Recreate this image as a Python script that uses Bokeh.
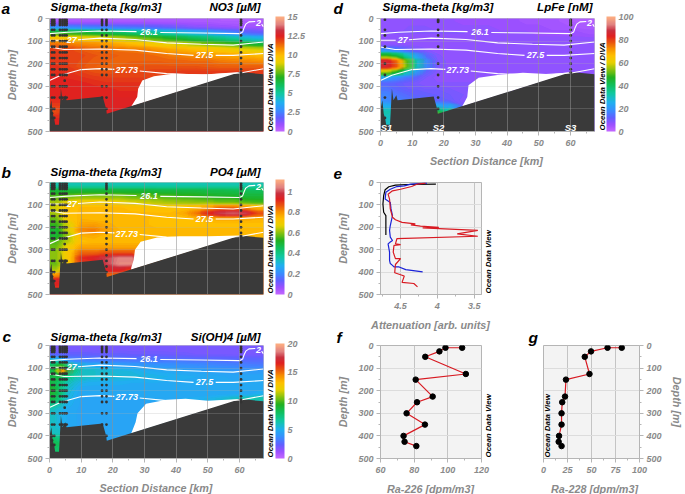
import numpy as np
from bokeh.plotting import figure
from bokeh.layouts import row, column
from bokeh.models import Range1d, FixedTicker, Label, LinearColorMapper, ColorBar
from bokeh.embed import file_html
from bokeh.resources import INLINE

FONT = "Liberation Sans"
GRAY = "#8a8a8a"
DARK = "#3a3a3a"
nan = float("nan")

# ---- colour scale stops (fraction, colour) ----
cmap_pos = [0, .06, .12, .18, .25, .33, .40, .47, .53, .60, .66, .72, .78, .83, .88, .93, 1]
cmap_col = ["#c468ff", "#9a50ff", "#6060ff", "#3a8cff", "#20b0f0", "#10c8a0", "#10c060", "#20b020",
            "#80c010", "#e8d000", "#ffc000", "#f89000", "#e85010", "#e02020", "#c83040", "#e08080", "#ffb080"]

# ---- section fields; rows at grid_m, columns at the panel's km grid ----
grid_km = [2, 6, 10, 14, 18, 22, 26, 30, 34, 38, 42, 46, 50, 54, 58, 62, 66]
grid_km_c = [1, 3.4, 6, 10, 14, 18, 22, 26, 30, 34, 38, 42, 46, 50, 54, 58, 62, 66]
grid_km_d = [2, 5, 7, 9, 11.5, 14, 18, 22, 26, 30, 34, 38, 42, 46, 50, 54, 58, 62, 66]
grid_m = [12.5, 37.5, 62.5, 87.5, 112.5, 137.5, 162.5, 187.5, 212.5, 237.5, 262.5, 287.5, 312.5, 337.5, 362.5, 387.5, 412.5, 437.5, 462.5, 487.5]
no3 = [
 [.6,.6,.6,.6,.6,.6,.6,.6,.6,.6,.6,.6,.6,.5,.5,.5,.5],
 [2.8,2.6,2.5,2.4,2.3,2.2,2.1,2,1.8,1.6,1.4,1.2,1.1,1,.9,.8,.8],
 [7,7,6.8,6.5,6.3,6,5.7,5.4,5,4.6,4.2,3.8,3.4,3,2.6,2,1.8],
 [9.8,9.6,9.4,9.2,9,8.6,8.2,7.8,7.4,7,6.6,6.2,5.8,5.4,5,4.4,4],
 [11.2,11.1,10.9,10.8,10.6,10.3,10,9.7,9.3,9,8.7,8.3,8,7.7,7.4,7,6.6],
 [12,11.9,11.6,11.4,11.3,11.2,11.1,11,10.7,10.4,10.2,10,9.8,9.6,9.3,9,8.8],
 [12.1,12,11.9,11.7,11.6,11.5,11.5,11.4,11.3,11.1,11,10.8,10.7,10.5,10.4,10.2,10],
 [12.1,12,11.8,11.6,11.5,11.5,11.5,11.5,11.5,11.4,11.4,11.3,11.3,11.1,11,10.9,10.8],
 [12.2,12,11.7,11.5,11.4,11.5,11.6,11.7,11.7,11.7,11.7,11.7,11.6,11.5,11.5,11.5,11.5],
 [12.3,12.2,12,11.8,11.7,11.8,11.9,11.9,12,12,12.1,12.1,12.1,12.1,12.1,12.1,12.1],
 [12.4,12.3,12.2,12.1,12,12,12] + [12] * 10,
 [12.5,12.5,12.4,12.3,12.2,12.2,12.2] + [12.2] * 10,
 [12.5,12.5,12.4,12.4,12.4,12.3,12.3] + [12.3] * 10,
 [12.5,12.5,12.5,12.4,12.4,12.4,12.4] + [12.4] * 10,
 [12.3,12.3,12.5,12.5,12.6,12.6,12.6] + [12.4] * 10,
 [12,12,12.5,12.5,12.6,12.6,12.6] + [12.4] * 10,
 [11.8,12.2,12.5,12.5,12.6,12.6,12.6] + [12.4] * 10,
 [12.3,12.3,12.5,12.5,12.6,12.6,12.6] + [12.4] * 10,
 [12.5] * 17,
 [12.5] * 17,
]
po4 = [
 [.36] * 17,
 [.50,.50,.50,.50,.50,.50,.50,.50,.49,.49,.49,.49,.48,.48,.47,.46,.46],
 [.56,.58,.60,.60,.60,.60,.58,.58,.57,.56,.55,.54,.53,.52,.52,.50,.50],
 [.62,.68,.70,.70,.70,.68,.66,.65,.63,.62,.61,.60,.60,.58,.58,.56,.55],
 [.66,.73,.75,.75,.75,.75,.74,.73,.72,.72,.74,.76,.80,.85,.85,.82,.76],
 [.62,.74,.75,.75,.75,.75,.75,.75,.75,.75,.77,.83,.92,1.0,1.02,1.0,.88],
 [.58,.72,.76,.75,.75,.75,.75,.75,.74,.74,.74,.75,.76,.77,.77,.77,.76],
 [.54,.66,.78,.79,.77,.75,.75,.75,.74,.74,.74,.74,.74,.74,.74,.74,.74],
 [.50,.66,.82,.83,.79,.76,.75,.75,.75,.75,.75,.75,.75,.75,.75,.75,.75],
 [.50,.62,.76,.77,.75,.75,.75] + [.75] * 10,
 [.56,.64,.74,.75,.75,.75,.75] + [.75] * 10,
 [.58,.70,.78,.78,.78,.78,.78] + [.78] * 10,
 [.60,.72,.85,.85,.87,.87,.87] + [.85] * 10,
 [.60,.72,.92,.95,1.0,1.05,1.05] + [.85] * 10,
 [.58,.72,.90,.90,1.0,1.06,1.06] + [.85] * 10,
 [.62,.80,.90,.90,.95,.95,.90] + [.85] * 10,
 [.80,.85] + [.85] * 15,
 [.95,.95] + [.85] * 15,
 [.92,.90] + [.85] * 15,
 [.90,.90] + [.85] * 15,
]
sioh4 = [
 [1.8] * 18,
 [2.4,2.4,2.4,2.4,2.3,2.3,2.3,2.2,2.2,2.2,2.1,2.1,2,2,2,1.9,1.9,1.9],
 [5.5,5,3.4,3.2,3.2,3.1,3.1,3,3,3,2.9,2.9,2.8,2.8,2.7,2.7,2.6,2.6],
 [8,10,6,5,4.8,4.6,4.4,4.2,4.1,4,3.9,3.8,3.7,3.6,3.5,3.4,3.3,3.2],
 [8.5,15.5,8,6,5.8,5.6,5.4,5.3,5,4.8,4.7,4.6,4.5,4.4,4.3,4.2,4.2,4.2],
 [8.5,8.5,7,6,5.8,5.6,5.6,5.5,5.3,5.2,5.1,5,4.9,4.8,4.7,4.6,4.6,4.6],
 [8.5,7.5,6,5.2,5,5,5,4.9,4.9,4.9,4.8,4.8,4.8,4.8,4.7,4.7,4.7,4.7],
 [9,7.5,5.6] + [4.8] * 15,
 [9,7.5,5.4] + [4.7] * 14 + [5],
 [8.5,7,5.2,4.6,4.6,4.6,4.6,4.6,4.7,4.7,4.8,4.9,5,5.2,5.5,6,6.4,6.5],
 [7,6,5] + [4.6] * 15,
 [6,5.2,4.8] + [4.6] * 15,
 [6,5.2,4.8] + [4.6] * 15,
 [6,5.2,4.8] + [4.6] * 15,
 [6,5.4,4.8] + [4.6] * 15,
 [6,6,4.8] + [4.6] * 15,
 [8,7,4.8] + [4.6] * 15,
 [8.5,8,4.8] + [4.6] * 15,
 [8,8,4.8] + [4.6] * 15,
 [8,8,4.8] + [4.6] * 15,
]
lpfe = [
 [7,7,7,7,7,7,7,7,6,6,6,6,6,5,5,5,4,3,3],
 [7,7,7,8,8,8,7,7,7,7,7,6,6,6,6,5,5,4,4],
 [8,8,8,8,8,8,8,8,8,7,7,7,7,7,6,6,6,6,5],
 [7] * 19,
 [7] * 19,
 [18,16,13,11,9,8,7] + [7] * 12,
 [47,42,35,27,19,13,8] + [7] * 12,
 [86,76,58,42,28,18,9] + [7] * 12,
 [86,78,60,43,28,18,9] + [7] * 12,
 [55,46,36,27,18,12,8] + [7] * 12,
 [22,19,16,14,12,9,7] + [7] * 12,
 [13,12,11,10,9,8,8] + [8] * 12,
 [15,13,12,11,11,10,10,9] + [8] * 11,
 [17,15,14,13,12,12,11,10,9] + [8] * 10,
 [18,17,16,15,14,14,12,11,8] + [8] * 10,
 [25,22,20,18,18,18,28,22,10] + [8] * 10,
 [32,30,30,30,30,30,50,35,12] + [8] * 10,
 [30,30,30,30,30,30,58,30,12] + [8] * 10,
 [30,30,30,30,30,30,58,30,12] + [8] * 10,
 [30,30,30,30,30,30,58,30,12] + [8] * 10,
]

# ---- bathymetry and data-free area ----
bottom_km = [0, 0, .6, 1.0, 1.5, 1.8, 3.0, 3.2, 3.6, 4.1, 5.0, 5.4, 16.8, 17.9, 18.1, 60.3, 67.6, 67.6]
bottom_m = [500, 400, 362, 420, 445, 470, 470, 420, 310, 362, 340, 362, 345, 400, 422, 237, 247, 500]

nodata_km_a = [25.8, 27.7, 28, 29.3, 33, 39, 50, 60.3]
nodata_m_a = [389, 347, 311, 274, 256, 244, 247, 237]
nodata_km_b = [25.8, 26.6, 27, 28.8, 34, 41, 50, 60.3]
nodata_m_b = [382, 345, 300, 265, 245, 240, 240, 237]
nodata_km_c = [25.8, 27.2, 27.8, 30.5, 37, 43, 50, 60.3]
nodata_m_c = [389, 340, 300, 258, 240, 236, 244, 237]
nodata_km_d = [25.8, 27.4, 27.8, 31, 37, 45, 54, 60.3]
nodata_m_d = [389, 347, 295, 262, 250, 240, 247, 237]

# ---- isopycnals (line breaks at the inline labels) ----
c261_km = [0, 5.7, 16, 27.5, nan, 35, 48, 60, 61, 61.5, 62, 63, 65, nan, 67, 67.6]
c261_m = [67, 61, 55, 58, nan, 62, 64, 67, 60, 40, 25, 15, 13, nan, 25, 37]
c27_km = [0, 4.8, nan, 9, 16, 27, 37, 48, 58, 67.6]
c27_m = [96, 96, nan, 94, 87, 93, 108, 114, 118, 104]
c275_km = [0, 4.6, 16, 27, 37, 45.5, nan, 52.5, 58, 67.6]
c275_m = [126, 137, 135, 140, 155, 163, nan, 163, 163, 155]
c2773_km = [0, 3.6, 10, 16, 20.5, nan, 28.5, 37, 48, 60.3, 67.6]
c2773_m = [274, 251, 226, 222, 225, nan, 232, 244, 251, 241, 222]

iso_labels = ["26.1", "27", "27.5", "27.73", "2"]
iso_label_km = [31.4, 7, 49, 24.4, 66]
iso_label_m = [60, 96, 163, 229, 19]

# ---- station sampling ----
st_dense = [5, 13, 21, 29, 50, 75, 100, 125, 150, 175, 200, 225, 250]
a_km = [.8, 1.5, 3.3, 4.1, 4.8, 5.4, 16.6, 18, 60.5]
a_deep = [[300, 350, 400, 420, 440], [300, 350, 400, 440], [300, 350], [300, 350], [275, 300, 350], [300, 350], [300, 350], [300, 350, 400], [240]]
b_km = [.8, 1.5, 3.3, 4.1, 4.8, 5.4, 18, 60.5]
b_deep = [[300, 350, 400, 420, 440], [300, 350, 400, 440], [300, 350], [300, 350], [275, 300, 350], [300, 350], [275, 300, 325, 350, 375, 400], [240]]
d_km = [1.4, 18.2, 60.1]
d_depths = [[5, 50, 75, 125, 200, 250, 350, 440],
            [5, 10, 15, 50, 75, 125, 200, 250, 300, 350, 400],
            [5, 10, 15, 20, 25, 30, 50, 75, 100, 125, 150, 175, 200, 225, 240]]

# ---- profiles ----
black_att = [4.02, 4.41, 4.57, 4.66, 4.71, 4.73, 4.74, 4.73, 4.70, 4.70, 4.70]
black_m = [7, 9, 12, 19, 32, 59, 96, 133, 148, 178, 234]
blue_att = [4.14, 4.36, 4.45, 4.55, 4.64, 4.70, 4.71, 4.64, 4.63, 4.61, 4.64, 4.65, 4.64, 4.61, 4.64, 4.67, 4.65, 4.65, 4.64, 4.61, 4.59, 4.52, 4.43, 4.20]
blue_m = [3, 7, 15, 18, 30, 44, 74, 89, 118, 148, 192, 214, 244, 259, 266, 274, 311, 348, 362, 370, 377, 377, 389, 399]
red_att = [4.16, 4.27, 4.35, 4.50, 4.61, 4.67, 4.65, 4.64, 4.61, 4.57, 4.48, 4.30, 4.36, 4.23, 3.98, 4.20, 3.45, 3.73, 3.45, 4.55, 4.57, 4.50, 4.59, 4.60, 4.57, 4.50, 4.57, 4.58, 4.48, 4.45, 4.48, 4.32, 4.27]
red_m = [3, 7, 18, 30, 37, 52, 74, 118, 155, 166, 178, 185, 189, 195, 200, 203, 214, 229, 240, 251, 274, 277, 281, 311, 340, 340, 366, 403, 414, 418, 446, 451, 466]
ra226 = [108.5, 98.6, 95, 86.6, 110.7, 80.9, 91, 81.7, 75.5, 86.4, 73.7, 74.3, 81.3]
ra226_m = [10, 10, 26, 50, 126, 151, 226, 251, 300, 350, 400, 426, 445]
ra228 = [81.5, 66.7, 49.5, 43, 47.9, 23.4, 22.4, 19.5, 18.8, 18.8, 16.2, 15.8, 18.8]
ra228_m = [10, 10, 26, 50, 126, 151, 226, 251, 300, 350, 400, 426, 445]

depth_ticks = [0, 100, 200, 300, 400, 500]
depth_minor = [50, 150, 250, 350, 450]
dist_ticks = [0, 10, 20, 30, 40, 50, 60]

# ---- text layer (page pixel positions) ----
title_txt = ["Sigma-theta [kg/m3]"] * 4
title_x = [50, 50, 50, 382]
title_y = [6, 171, 336, 6]
var_txt = ["NO3 [µM]", "PO4 [µM]", "Si(OH)4 [µM]", "LpFe [nM]"]
var_x = [260, 260, 260, 592]
letter_txt = ["a", "b", "c", "d", "e", "f", "g"]
letter_x = [1, 1, 2, 333, 333, 336, 528]
letter_y = [8, 172, 336, 8, 173, 337, 337]
odv_txt = ["Ocean Data View / DIVA"] * 4 + ["Ocean Data View"] * 3
odv_x = [270, 270, 270, 602, 488, 488, 547]
odv_y = [131, 293, 457, 130, 293, 457, 457]
st_txt = ["S1", "S2", "S3"]
st_x = [386, 438, 570]
xlabel_txt = ["Section Distance [km]", "Section Distance [km]", "Attenuation [arb. units]", "Ra-226 [dpm/m3]", "Ra-228 [dpm/m3]"]
xlabel_x = [155.5, 486, 430, 430, 594]
xlabel_y = [487.5, 160.5, 324, 488.5, 488.5]

pos = np.linspace(0, 1, 256)
rgb = np.array([[int(c[i:i+2], 16) for i in (1, 3, 5)] for c in cmap_col])
palette = ["#%02x%02x%02x" % tuple(int(round(np.interp(t, cmap_pos, rgb[:, k]))) for k in range(3)) for t in pos]


def style_axis(ax, label=None, label_standoff=5, tick_standoff=3):
    ax.axis_label = label
    ax.axis_label_text_font = FONT
    ax.axis_label_text_font_style = "bold italic"
    ax.axis_label_text_font_size = "10.8px"
    ax.axis_label_text_color = GRAY
    ax.axis_label_standoff = label_standoff
    ax.major_label_text_font = FONT
    ax.major_label_text_font_style = "bold italic"
    ax.major_label_text_font_size = "9px"
    ax.major_label_text_color = GRAY
    ax.major_label_standoff = tick_standoff
    ax.axis_line_color = "#b5b5b5"
    ax.major_tick_line_color = "#b5b5b5"
    ax.minor_tick_line_color = "#b5b5b5"
    ax.major_tick_out = 4
    ax.major_tick_in = 0
    ax.minor_tick_out = 2
    ax.minor_tick_in = 0


def section(field, xgrid, vmax, cticks, nod_km, nod_m, st_km, st_deep, st_common, w, h, left, right, top, bottom, show_x):
    p = figure(width=w, height=h, min_border_left=left, min_border_right=right, min_border_top=top,
               min_border_bottom=bottom, x_range=Range1d(0, 67.6), y_range=Range1d(500, 0),
               toolbar_location=None, output_backend="svg", background_fill_color="white")
    mapper = LinearColorMapper(palette=palette, low=0, high=vmax)
    z = np.pad(np.array(field, dtype=float), 1, mode="edge")
    xs = np.array([0] + xgrid + [67.6])
    ys = np.array([0] + grid_m + [500])
    # image underneath hides hairline seams between the filled contour bands
    p.image(image=[np.array(field, dtype=float)], x=0, y=0, dw=67.6, dh=500, color_mapper=mapper)
    levels = np.linspace(0, vmax, 91)
    fills = [palette[min(255, int(255 * (levels[i] + levels[i + 1]) / 2 / vmax))] for i in range(90)]
    p.contour(xs, ys, z, levels, fill_color=fills, line_color=None)
    p.patch(nod_km + nod_km[-1:] + [nod_km[0]], nod_m + [240, 389], color="white", line_color=None)
    p.patch(bottom_km, bottom_m, color=DARK, line_color=None)
    for cx, cy in ((c261_km, c261_m), (c27_km, c27_m), (c275_km, c275_m), (c2773_km, c2773_m)):
        p.line(cx, cy, color="white", line_width=1.1)
    sx, sy = [], []
    for km, deep in zip(st_km, st_deep):
        ds = list(st_common) + list(deep)
        sx += [km] * len(ds)
        sy += ds
    p.scatter(sx, sy, size=2.8, color="#333333", line_color=None)
    for s, x, y in zip(iso_labels, iso_label_km, iso_label_m):
        p.add_layout(Label(x=x, y=y, text=s, text_font=FONT, text_font_size="9px", text_font_style="bold italic",
                           text_color="white", text_align="center", text_baseline="middle"))
    p.xgrid.ticker = FixedTicker(ticks=dist_ticks)
    p.ygrid.ticker = FixedTicker(ticks=depth_ticks)
    p.xgrid.level = "overlay"
    p.ygrid.level = "overlay"
    p.xgrid.grid_line_color = "#909090"
    p.xgrid.grid_line_alpha = .55
    p.ygrid.grid_line_color = "#b0b0b0"
    p.ygrid.grid_line_alpha = .25
    p.outline_line_color = "#c8c8c8"
    p.yaxis.ticker = FixedTicker(ticks=depth_ticks, minor_ticks=depth_minor)
    p.xaxis.ticker = FixedTicker(ticks=dist_ticks, minor_ticks=[5, 15, 25, 35, 45, 55, 65])
    style_axis(p.yaxis[0], "Depth [m]", 6)
    style_axis(p.xaxis[0], None, 0, 4)
    p.xaxis.visible = show_x
    cb = ColorBar(color_mapper=mapper, ticker=FixedTicker(ticks=cticks), width=9, height=115, margin=0, padding=0,
                  major_tick_line_color=None, minor_tick_line_color=None, bar_line_color=None,
                  major_label_text_font=FONT, major_label_text_font_style="bold italic",
                  major_label_text_font_size="9px", major_label_text_color=GRAY, label_standoff=3,
                  major_label_overrides={t: str(t) for t in cticks}, location=(12, 0))
    p.add_layout(cb, "right")
    return p


def profile(w, h, left, right, top, bottom, xr, xticks, xminor, side="left"):
    p = figure(width=w, height=h, min_border_left=left, min_border_right=right, min_border_top=top,
               min_border_bottom=bottom, x_range=Range1d(*xr), y_range=Range1d(500, 0), toolbar_location=None,
               output_backend="svg", background_fill_color="#f3f3f3", y_axis_location=side)
    p.xgrid.ticker = FixedTicker(ticks=xticks)
    p.ygrid.ticker = FixedTicker(ticks=depth_ticks)
    p.xgrid.grid_line_color = "#c4c4c4"
    p.ygrid.grid_line_color = "#dcdcdc"
    p.outline_line_color = "#b5b5b5"
    p.yaxis.ticker = FixedTicker(ticks=depth_ticks, minor_ticks=depth_minor)
    p.xaxis.ticker = FixedTicker(ticks=xticks, minor_ticks=xminor)
    style_axis(p.yaxis[0], "Depth [m]", 6)
    style_axis(p.xaxis[0], None, 0, 4)
    return p


pa = section(no3, grid_km, 15, [0, 2.5, 5, 7.5, 10, 12.5, 15], nodata_km_a, nodata_m_a, a_km, a_deep, st_dense,
             330, 165, 49, 67, 18, 34, False)
pb = section(po4, grid_km, 1.12, [0, .2, .4, .6, .8, 1], nodata_km_b, nodata_m_b, b_km, b_deep, st_dense,
             330, 165, 49, 67, 17, 36, False)
pc = section(sioh4, grid_km_c, 20, [0, 5, 10, 15, 20], nodata_km_c, nodata_m_c, a_km, a_deep, st_dense,
             330, 164, 49, 67, 15, 36, True)
pd = section(lpfe, grid_km_d, 100, [0, 20, 40, 60, 80, 100], nodata_km_d, nodata_m_d, d_km, d_depths, [],
             355, 165, 50, 91, 18, 34, True)

pe = profile(190, 165, 50, 39, 17, 36, (4.773, 3.4), [4.5, 4, 3.5], [4.75, 4.25, 3.75])
pe.xaxis.major_label_overrides = {4.5: "4.5", 4: "4", 3.5: "3.5"}
pe.line(black_att, black_m, color="black", line_width=1.2)
pe.line(blue_att, blue_m, color="#1a22d8", line_width=1.2)
pe.line(red_att, red_m, color="#d81a22", line_width=1.2)

pf = profile(190, 164, 50, 39, 15, 36, (60, 120), [60, 80, 100, 120], [70, 90, 110])
pf.line(ra226, ra226_m, color="#d81a22", line_width=1.2)
pf.scatter(ra226, ra226_m, size=5.5, color="black")

pg = profile(165, 164, 23, 41, 15, 36, (0, 100), [0, 25, 50, 75, 100], [12.5, 37.5, 62.5, 87.5], side="right")
pg.line(ra228, ra228_m, color="#d81a22", line_width=1.2)
pg.scatter(ra228, ra228_m, size=5.5, color="black")

# transparent full-page layer for the texts that sit outside the panel frames
ov = figure(width=685, height=494, min_border=0, x_range=Range1d(0, 685), y_range=Range1d(494, 0),
            toolbar_location=None, output_backend="svg", background_fill_color=None, border_fill_color=None)
ov.axis.visible = False
ov.grid.visible = False
ov.outline_line_color = None


def put(xs, ys, texts, size, color, align="left", angle=0):
    ov.text(xs, ys, text=texts, text_font={"value": FONT}, text_font_style="bold italic", text_font_size=size,
            text_color=color, text_align=align, text_baseline="middle", angle=angle, angle_units="deg")


put(title_x, title_y, title_txt, "11.6px", "black")
put(var_x, title_y, var_txt, "11.6px", "black", align="right")
put(letter_x, letter_y, letter_txt, "15.5px", "black")
put(odv_x, odv_y, odv_txt, "7.9px", "black", angle=90)
put(st_x, [127] * 3, st_txt, "9.5px", "white", align="center")
put(xlabel_x, xlabel_y, xlabel_txt, "10.8px", GRAY, align="center")

root = row(column(pa, pb, pc, spacing=0), column(pd, row(pe), row(pf, pg, spacing=0), spacing=0), spacing=0)
root.styles = {"position": "absolute", "left": "0", "top": "0"}
ov.styles = {"position": "absolute", "left": "0", "top": "0"}
open("out.html", "w").write(file_html([root, ov], INLINE))
